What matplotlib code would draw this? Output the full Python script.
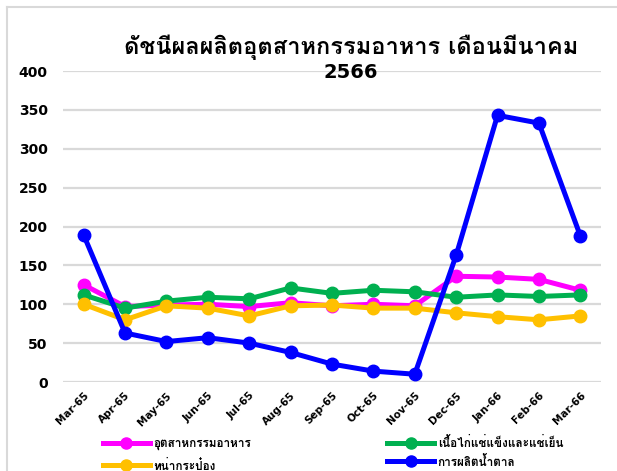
import matplotlib
matplotlib.use("Agg")
import matplotlib.pyplot as plt
from matplotlib import font_manager
from matplotlib.ft2font import FT2Font
from matplotlib.lines import Line2D

# ---------------- data ----------------
months = ["Mar-65", "Apr-65", "May-65", "Jun-65", "Jul-65", "Aug-65", "Sep-65",
          "Oct-65", "Nov-65", "Dec-65", "Jan-66", "Feb-66", "Mar-66"]
food_industry = [125, 97, 99, 100, 97, 102, 98, 100, 98, 136, 135, 132, 118]
chicken = [112, 95, 104, 109, 107, 121, 114, 118, 116, 109, 112, 110, 112]
tuna = [100, 80, 98, 95, 85, 98, 99, 95, 95, 89, 84, 80, 85]
sugar = [189, 63, 52, 57, 50, 38, 23, 14, 10, 163, 343, 333, 188]
series_names = ["อุตสาหกรรมอาหาร", "เนื้อไก่แช่แข็งและแช่เย็น", "ทูน่ากระป๋อง", "การผลิตน้ำตาล"]
yticks = [0, 50, 100, 150, 200, 250, 300, 350, 400]
title_line1 = "ดัชนีผลผลิตอุตสาหกรรมอาหาร เดือนมีนาคม"
title_line2 = "2566"

# ---------------- font with Thai glyphs ----------------
thai_family = None
for f in font_manager.fontManager.ttflist:
    try:
        cm = FT2Font(f.fname).get_charmap()
        if ord("ด") in cm and ord("ช") in cm:
            thai_family = f.name
            break
    except Exception:
        pass
families = ([thai_family] if thai_family else []) + ["DejaVu Sans"]
plt.rcParams["font.family"] = families

colors = ["#FF00FF", "#00B050", "#FFC000", "#0000FF"]
data = [food_industry, chicken, tuna, sugar]

fig = plt.figure(figsize=(6.17, 4.71), dpi=100)
ax = fig.add_axes([63 / 617, 1 - 382 / 471, 538 / 617, 311 / 471])

x = list(range(len(months)))
order = [2, 1, 0, 3]
for i in order:
    ax.plot(x, data[i], color=colors[i], lw=3.6, marker="o", ms=9,
            solid_capstyle="round", zorder=3 + i)

ax.set_xlim(-0.5, len(months) - 0.5)
ax.set_ylim(0, 400)
ax.set_yticks(yticks)
ax.set_yticklabels([str(v) for v in yticks], fontsize=10, fontweight="bold",
                   family="DejaVu Sans")
ax.set_xticks(x)
ax.set_xticklabels(months, rotation=45, ha="right", rotation_mode="anchor",
                   fontsize=7.5, fontweight="bold", family="DejaVu Sans")
ax.tick_params(axis="both", length=0, pad=6)
ax.tick_params(axis="y", pad=11)
ax.grid(axis="y", color="#D9D9D9", lw=1.6, zorder=0)
ax.set_axisbelow(True)
for s in ax.spines.values():
    s.set_visible(False)

fig.text(351 / 617, 1 - 47 / 471, title_line1, ha="center", va="center",
         fontsize=17, fontweight="bold")
fig.text(351 / 617, 1 - 72 / 471, title_line2, ha="center", va="center",
         fontsize=14, fontweight="bold", family="DejaVu Sans")

# legend (row-major order: pink, green / orange, blue)
handles = [Line2D([], [], color=c, lw=3.6, marker="o", ms=8) for c in colors]
leg_order = [0, 2, 1, 3]
leg = fig.legend([handles[i] for i in leg_order], [series_names[i] for i in leg_order],
                 loc="center left", ncol=2,
                 bbox_to_anchor=(92 / 617, 1 - 454 / 471), frameon=False,
                 prop={"size": 8.5, "weight": "bold"}, handlelength=4.0,
                 columnspacing=11.5, labelspacing=0.45, handletextpad=0.3)

# figure border (left & top)
fig.add_artist(Line2D([6.5 / 617, 6.5 / 617], [0, 1 - 7 / 471],
                      transform=fig.transFigure, color="#D9D9D9", lw=1.5))
fig.add_artist(Line2D([6.5 / 617, 1], [1 - 7 / 471, 1 - 7 / 471],
                      transform=fig.transFigure, color="#D9D9D9", lw=1.5))

fig.savefig("out.png", dpi=100)
